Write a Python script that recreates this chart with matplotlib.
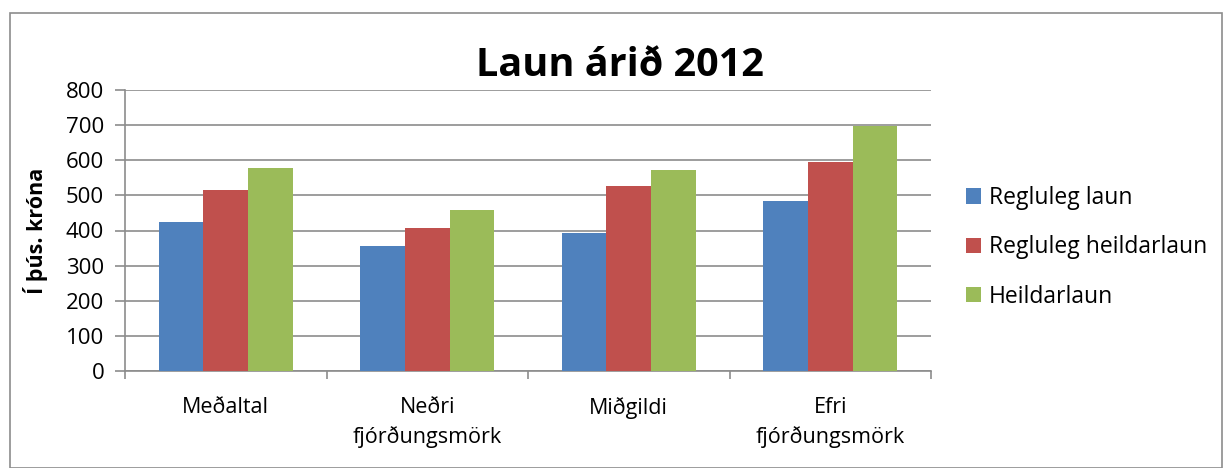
import matplotlib.pyplot as plt
import numpy as np
from matplotlib.patches import Rectangle

categories = ["Meðaltal", "Neðri\nfjórðungsmörk", "Miðgildi", "Efri\nfjórðungsmörk"]
regluleg_laun = [423, 357, 392, 484]
regluleg_heildarlaun = [515, 407, 526, 594]
heildarlaun = [577, 457, 573, 698]
series_names = ["Regluleg laun", "Regluleg heildarlaun", "Heildarlaun"]
colors = ["#4F81BD", "#C0504D", "#9BBB59"]

plt.rcParams['font.family'] = ['Open Sans', 'DejaVu Sans']

fig = plt.figure(figsize=(12.25, 4.68), dpi=100)
ax = fig.add_axes([125/1225, 1 - 371/468, (931-125)/1225, (371-90)/468])

# outer chart border
fig.patches.append(Rectangle((10/1225, 0), 1212/1225, 1 - 13/468, transform=fig.transFigure,
                             fill=False, edgecolor="#8c8c8c", linewidth=1.2))

x = np.arange(len(categories))
w = 2/9
for i, (vals, name, c) in enumerate(zip([regluleg_laun, regluleg_heildarlaun, heildarlaun], series_names, colors)):
    ax.bar(x + (i - 1) * w, vals, width=w, color=c, label=name, zorder=3)

ax.set_xlim(-0.5, len(categories) - 0.5)
ax.set_ylim(0, 800)
ax.set_yticks(range(0, 801, 100))
ax.yaxis.grid(True, color="#8c8c8c", linewidth=1.2, zorder=0)
ax.set_xticks(x)
ax.set_xticklabels(categories, fontsize=15.5, linespacing=1.45)
ax.set_xticks(np.arange(-0.5, len(categories)), minor=True)
ax.tick_params(axis="x", which="major", length=0, pad=19)
ax.tick_params(axis="x", which="minor", length=6, color="#8c8c8c", width=1.2)
ax.tick_params(axis="y", labelsize=16, length=7, color="#8c8c8c", width=1.2, pad=8)
for s in ["top", "right"]:
    ax.spines[s].set_visible(False)
for s in ["left", "bottom"]:
    ax.spines[s].set_color("#8c8c8c")
    ax.spines[s].set_linewidth(1.2)

ax.set_ylabel("Í þús. króna", fontsize=15.5, fontweight="bold", labelpad=13)
fig.text(620/1225, 1 - 65/468, "Laun árið 2012", fontsize=28.5, fontweight="bold",
         ha="center", va="center")

ax.legend(loc="center left", bbox_to_anchor=(1.043, 0.44), frameon=False, fontsize=16.5,
          handlelength=0.65, handleheight=0.65, handletextpad=0.35, labelspacing=1.1,
          borderaxespad=0, borderpad=0)

fig.savefig("out.png", dpi=100)
